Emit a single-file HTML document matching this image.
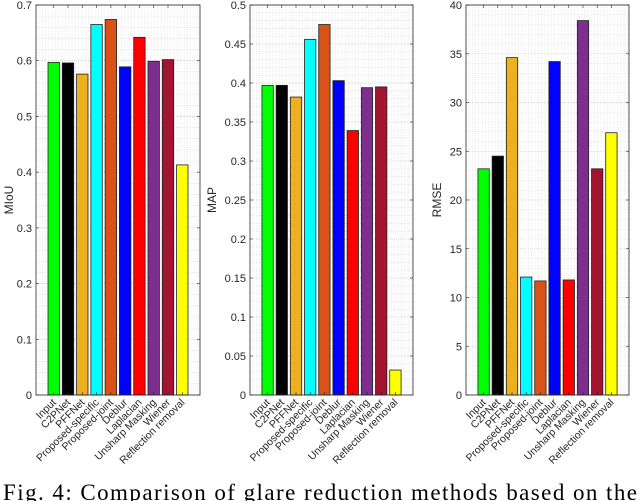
<!DOCTYPE html>
<html><head><meta charset="utf-8"><style>
body{margin:0;background:#fff;width:640px;height:501px;overflow:hidden}
svg{display:block}
text{font-family:"Liberation Sans",sans-serif;fill:#262626}
</style></head><body>
<svg id="fig" width="640" height="501">
<text x="3" y="500" textLength="634" lengthAdjust="spacing" style="font-family:'Liberation Serif',serif;font-size:23px;fill:#000">Fig. 4: Comparison of glare reduction methods based on the</text>
</svg>
<script>
const categories=["Input","C2PNet","PFFNet","Proposed-specific","Proposed-joint","Deblur","Laplacian","Unsharp Masking","Wiener","Reflection removal"];
const colors=["#00ff00","#000000","#edb120","#00ffff","#d95319","#0000ff","#ff0000","#7e2f8e","#a2142f","#ffff00"];
const miouValues=[0.597,0.596,0.576,0.665,0.674,0.589,0.642,0.599,0.602,0.413];
const mapValues=[0.397,0.397,0.382,0.456,0.475,0.403,0.339,0.394,0.395,0.032];
const rmseValues=[23.2,24.5,34.6,12.1,11.7,34.2,11.8,38.4,23.2,26.9];
const miouTicks=["0","0.1","0.2","0.3","0.4","0.5","0.6","0.7"];
const mapTicks=["0","0.05","0.1","0.15","0.2","0.25","0.3","0.35","0.4","0.45","0.5"];
const rmseTicks=["0","5","10","15","20","25","30","35","40"];
const NS="http://www.w3.org/2000/svg";
const svg=document.getElementById('fig');
function mk(tag,attrs,parent){const e=document.createElementNS(NS,tag);for(const k in attrs)e.setAttribute(k,attrs[k]);(parent||svg).appendChild(e);return e;}
function chart(name,ylabel,values,ticks,L,R,ylabX){
  const T=5,B=395;
  const ymax=parseFloat(ticks[ticks.length-1]);
  const y=v=>B-(v/ymax)*(B-T);
  const n=categories.length;
  const x=i=>L+(R-L)*((i+1)-(-0.24))/(n+1+0.48);
  const step=(R-L)/(n+1.48);
  const g=mk('g',{});
  
  
  for(let k=0;k<=(ticks.length-1)*5;k++){const yy=B-k*(B-T)/((ticks.length-1)*5);
    mk('line',{x1:L,x2:R,y1:yy,y2:yy,stroke:'#dcdcdc','stroke-width':0.6,'stroke-dasharray':'1,1'},g);}
  for(let xx=L+3;xx<R;xx+=3.3){mk('line',{x1:xx,x2:xx,y1:T,y2:B,stroke:'#e2e2e2','stroke-width':0.6,'stroke-dasharray':'1,1'},g);}
  ticks.forEach(t=>{const yy=y(parseFloat(t));
    mk('line',{x1:L,x2:R,y1:yy,y2:yy,stroke:'#c8c8c8','stroke-width':0.6,'stroke-dasharray':'1,1'},g);
    mk('line',{x1:L,x2:L+3,y1:yy,y2:yy,stroke:'#262626','stroke-width':0.6},g);
    mk('line',{x1:R-3,x2:R,y1:yy,y2:yy,stroke:'#262626','stroke-width':0.6},g);
    const tl=mk('text',{x:L-4,y:yy+4,'text-anchor':'end','font-size':11},g);tl.textContent=t;
    
    
  });
  values.forEach((v,i)=>{const cx=x(i),w=step*0.8;
    const r=mk('rect',{x:cx-w/2,y:y(v),width:w,height:B-y(v),fill:colors[i],stroke:'#222','stroke-width':0.8},g);
    
    
    mk('line',{x1:cx,x2:cx,y1:T,y2:T+3,stroke:'#262626','stroke-width':0.6},g);
    mk('line',{x1:cx,x2:cx,y1:B-3,y2:B,stroke:'#262626','stroke-width':0.6},g);
    const lb=mk('text',{x:cx+3,y:B+8,'text-anchor':'end','font-size':10.5,transform:`rotate(-45 ${cx+3} ${B+8})`},g);
    lb.textContent=categories[i];
    
    
  });
  mk('rect',{x:L,y:T,width:R-L,height:B-T,fill:'none',stroke:'#262626','stroke-width':0.8},g);
  const yl=mk('text',{x:ylabX,y:(T+B)/2,'text-anchor':'middle','font-size':12,transform:`rotate(-90 ${ylabX} ${(T+B)/2})`},g);
  yl.textContent=ylabel;
  
  
}
chart('miou','MIoU',miouValues,miouTicks,36,200,13);
chart('map','MAP',mapValues,mapTicks,250,413,216);
chart('rmse','RMSE',rmseValues,rmseTicks,466,629,441);
</script>
</body></html>
